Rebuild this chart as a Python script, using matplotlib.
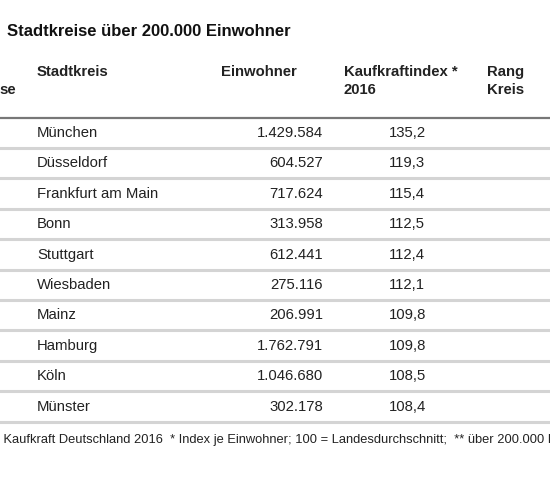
import matplotlib.pyplot as plt
from matplotlib.lines import Line2D

plt.rcParams["font.family"] = ["Liberation Sans", "DejaVu Sans"]

cities = ["München", "Düsseldorf", "Frankfurt am Main", "Bonn", "Stuttgart",
          "Wiesbaden", "Mainz", "Hamburg", "Köln", "Münster"]
population = ["1.429.584", "604.527", "717.624", "313.958", "612.441",
              "275.116", "206.991", "1.762.791", "1.046.680", "302.178"]
index_2016 = ["135,2", "119,3", "115,4", "112,5", "112,4",
              "112,1", "109,8", "109,8", "108,5", "108,4"]

W, H = 550, 480
fig = plt.figure(figsize=(W / 100, H / 100), dpi=100)


def px(x, y):
    # pixel coordinates from top-left to figure fraction
    return x / W, 1 - y / H


def hline(y, color, lw):
    x0, y0 = px(0, y)
    x1, _ = px(W, y)
    fig.add_artist(Line2D([x0, x1], [y0, y0], color=color, linewidth=lw,
                          transform=fig.transFigure))


fig.text(*px(7, 32), "Stadtkreise über 200.000 Einwohner", fontsize=12,
         fontweight="bold", va="center", color="#111111")

# header (table is cropped at both edges in the original)
hdr = dict(fontsize=10.7, fontweight="bold", va="center", color="#222222")
fig.text(*px(-1, 90), "se", **hdr)
fig.text(*px(37, 72), "Stadtkreis", **hdr)
fig.text(*px(221, 72), "Einwohner", **hdr)
fig.text(*px(344, 72), "Kaufkraftindex *", **hdr)
fig.text(*px(344, 90), "2016", **hdr)
fig.text(*px(487, 72), "Rang", **hdr)
fig.text(*px(487, 90), "Kreis", **hdr)

hline(118, "#777777", 1.6)

row_h = 30.4
cell = dict(fontsize=10.7, va="center", color="#222222")
for i, (c, p, k) in enumerate(zip(cities, population, index_2016)):
    y = 133 + i * row_h
    fig.text(*px(37, y), c, **cell)
    fig.text(*px(323, y), p, ha="right", **cell)
    fig.text(*px(389, y), k, **cell)
    hline(y + 15, "#d4d4d4", 2.2)

fig.text(*px(-3, 440),
         "l Kaufkraft Deutschland 2016  * Index je Einwohner; 100 = Landesdurchschnitt;  ** über 200.000 Einwohner",
         fontsize=9.3, va="center", color="#222222")

fig.savefig("out.png", dpi=100, facecolor="white")
